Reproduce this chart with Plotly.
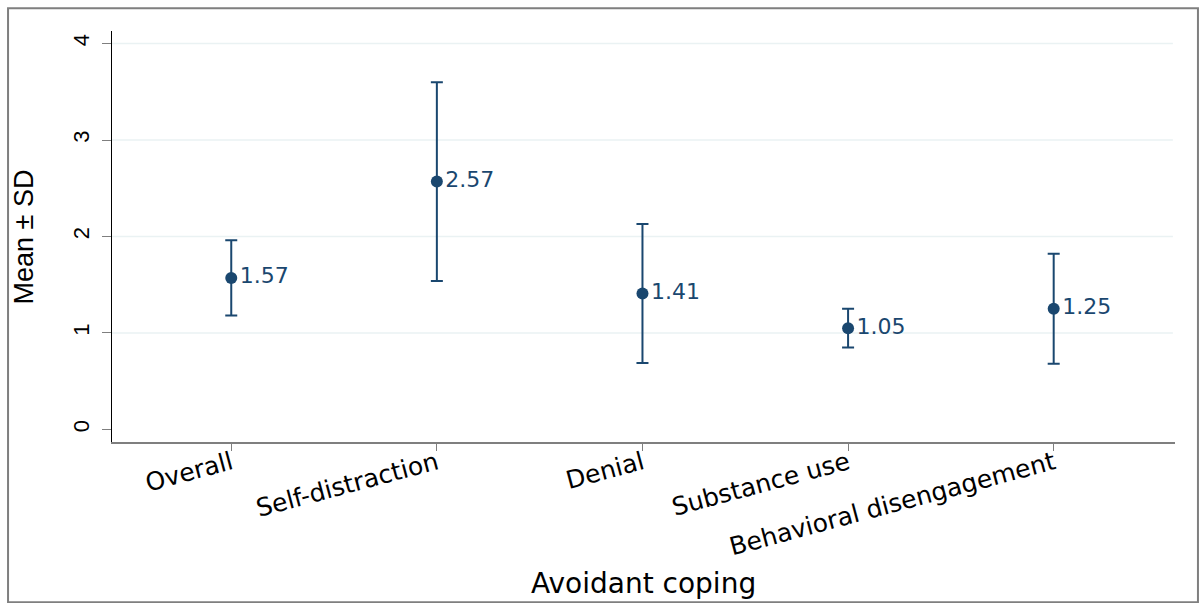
import plotly.graph_objects as go

categories = ["Overall", "Self-distraction", "Denial", "Substance use", "Behavioral disengagement"]
means = [1.57, 2.57, 1.41, 1.05, 1.25]
sds = [0.39, 1.03, 0.72, 0.20, 0.57]
y_ticks = [0, 1, 2, 3, 4]
grid_vals = [1, 2, 3, 4]

NAVY = "#1a476f"
positions = list(range(1, len(categories) + 1))

fig = go.Figure()
fig.add_trace(go.Scatter(
    x=positions, y=means,
    mode="markers+text",
    marker=dict(color=NAVY, size=12),
    error_y=dict(type="data", array=sds, visible=True, color=NAVY, thickness=2, width=6),
    text=[f"{m:.2f}" for m in means],
    textposition="middle right",
    textfont=dict(family="DejaVu Sans", size=22, color=NAVY),
    cliponaxis=False,
    showlegend=False,
    hoverinfo="skip",
))

shapes = []
for g in grid_vals:
    shapes.append(dict(type="line", xref="paper", yref="y", x0=0, x1=0.998, y0=g, y1=g,
                       line=dict(color="#eaf2f3", width=1.5), layer="below"))
# outer graph-region border
shapes.append(dict(type="rect", xref="paper", yref="paper",
                   x0=-0.0978, x1=1.0216, y0=-0.39, y1=1.0552,
                   line=dict(color="#7f7f7f", width=2), layer="below"))

fig.update_layout(
    width=1204, height=603,
    margin=dict(l=112, r=29, t=31, b=161),
    paper_bgcolor="white", plot_bgcolor="white",
    font=dict(family="DejaVu Sans", color="black"),
    shapes=shapes,
    xaxis=dict(
        range=[0.42, 5.59], tickvals=positions, ticktext=categories,
        tickangle=-15, tickfont=dict(family="DejaVu Sans", size=25, color="black"),
        ticks="outside", ticklen=7, tickcolor="#7f7f7f", tickwidth=1,
        ticklabelstandoff=-12,
        showline=True, linecolor="#7f7f7f", linewidth=2,
        showgrid=False, zeroline=False,
    ),
    yaxis=dict(
        range=[-0.13, 4.13], tickvals=y_ticks,
        tickangle=-90, tickfont=dict(family="Liberation Sans", size=22, color="black"),
        ticks="outside", ticklen=9, tickcolor="#7f7f7f", tickwidth=1,
        ticklabelstandoff=4,
        showline=True, linecolor="black", linewidth=1.3,
        showgrid=False, zeroline=False,
    ),
    annotations=[
        dict(text="Mean ± SD", xref="paper", yref="paper", x=-0.0828, y=0.5,
             xanchor="center", yanchor="middle", textangle=-90, showarrow=False,
             font=dict(family="Liberation Sans", size=27, color="black")),
        dict(text="Avoidant coping", xref="paper", yref="paper", x=0.5, y=-0.344,
             xanchor="center", yanchor="middle", showarrow=False,
             font=dict(family="DejaVu Sans", size=28, color="black")),
    ],
)

fig.write_html("out.html",
               config={"displayModeBar": False},
               post_script="document.body.style.margin='0';document.body.style.overflow='hidden';")
